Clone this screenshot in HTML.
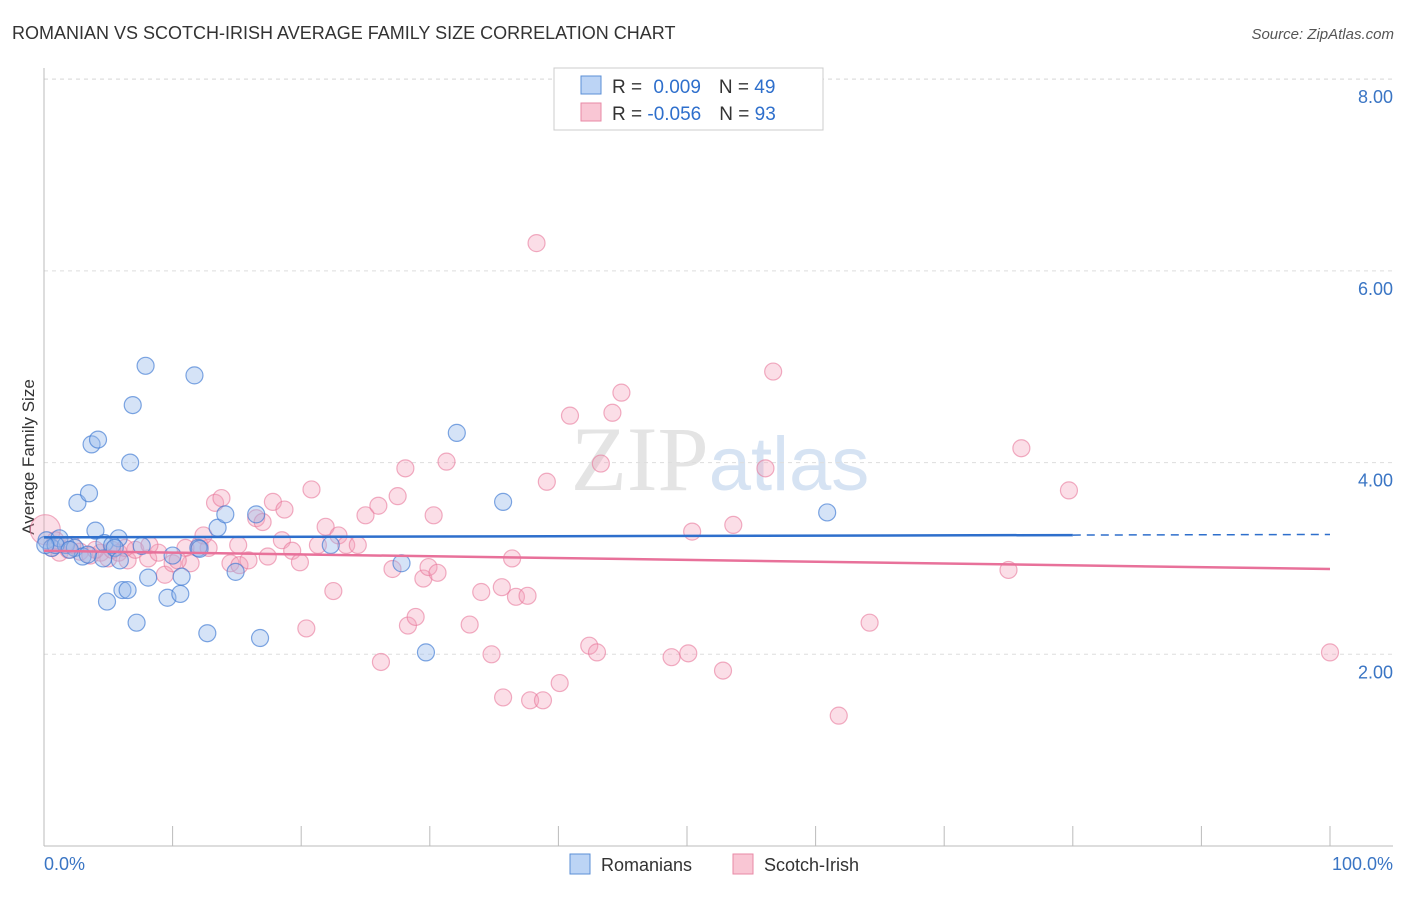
<!DOCTYPE html>
<html><head><meta charset="utf-8"><style>
body{margin:0;background:#fff;font-family:"Liberation Sans",sans-serif}
</style></head><body>
<svg width="1406" height="892" xmlns="http://www.w3.org/2000/svg" font-family="Liberation Sans, sans-serif">
<text x="12" y="39" font-size="18" fill="#333">ROMANIAN VS SCOTCH-IRISH AVERAGE FAMILY SIZE CORRELATION CHART</text>
<text x="1394" y="39" font-size="15" fill="#555" text-anchor="end" font-style="italic">Source: ZipAtlas.com</text>
<text x="720" y="490" font-size="92" text-anchor="middle" fill="#e4e4e4" font-family="Liberation Serif, serif">ZIP<tspan fill="#d6e3f3" font-family="Liberation Sans, sans-serif" font-size="76">atlas</tspan></text>
<g id="grid"></g>
<g id="axes"></g>
<text transform="translate(34,457) rotate(-90)" font-size="17" fill="#333" text-anchor="middle">Average Family Size</text>
<text x="44" y="870" font-size="18" fill="#3a75c4">0.0%</text>
<text x="1393" y="870" font-size="18" fill="#3a75c4" text-anchor="end">100.0%</text>
<g id="pts"></g>
<g id="trend"></g>
<g>
<rect x="554" y="68" width="269" height="62" fill="#fff" stroke="#ccc"/>
<rect x="581" y="76" width="20" height="18" fill="#bcd4f5" stroke="#5b8fd6"/>
<rect x="581" y="103" width="20" height="18" fill="#f9c6d4" stroke="#e889a6"/>
<text x="612" y="93" font-size="19" fill="#333">R = <tspan fill="#2e6fcc" dx="6">0.009</tspan><tspan dx="18">N = </tspan><tspan fill="#2e6fcc">49</tspan></text>
<text x="612" y="120" font-size="19" fill="#333">R = <tspan fill="#2e6fcc" dx="0">-0.056</tspan><tspan dx="18">N = </tspan><tspan fill="#2e6fcc">93</tspan></text>
</g>
<g>
<rect x="570" y="854" width="20" height="20" fill="#bcd4f5" stroke="#5b8fd6"/>
<text x="601" y="871" font-size="18" fill="#333">Romanians</text>
<rect x="733" y="854" width="20" height="20" fill="#f9c6d4" stroke="#e889a6"/>
<text x="764" y="871" font-size="18" fill="#333">Scotch-Irish</text>
</g>
</svg>
<script>
const yTicks=[2,4,6,8];
const yTickLabels=["2.00","4.00","6.00","8.00"];
const blueX=[0.2,0.6,1.2,1.7,2.4,3.0,4.0,4.7,5.8,5.3,7.6,2.6,3.5,3.7,4.2,6.7,6.9,7.9,11.7,4.9,6.1,6.5,7.2,8.1,9.6,10.6,10.7,10.0,12.0,12.7,13.5,14.1,14.9,16.5,16.8,22.3,27.8,29.7,32.1,35.7,60.9,4.6,5.5,0.9,2.0,12.1,5.9,3.4,0.1];
const blueY=[3.19,3.11,3.21,3.14,3.11,3.02,3.29,3.16,3.21,3.14,3.13,3.58,3.68,4.19,4.24,4.00,4.60,5.01,4.91,2.55,2.67,2.67,2.33,2.80,2.59,2.63,2.81,3.03,3.11,2.22,3.32,3.46,2.86,3.46,2.17,3.14,2.95,2.02,4.31,3.59,3.48,3.00,3.11,3.14,3.09,3.10,2.98,3.04,3.14];
const pinkX=[0.1,0.6,1.2,1.9,2.8,3.6,4.4,5.0,5.8,6.5,7.1,8.1,8.9,9.4,10.0,11.0,11.4,12.1,12.8,12.4,13.3,13.8,14.5,15.2,15.9,16.5,17.0,17.4,17.8,18.5,18.7,19.3,19.9,20.4,20.8,21.3,21.9,22.5,22.9,23.5,24.4,25.0,26.0,26.2,27.1,27.5,28.1,28.3,28.9,29.5,29.9,30.3,30.6,31.3,33.1,34.0,34.8,35.6,35.7,36.4,36.7,37.6,37.8,38.3,38.8,39.1,40.1,40.9,42.4,43.0,43.3,44.2,44.9,48.8,50.1,50.4,52.8,53.6,56.1,56.7,61.8,64.2,75.0,76.0,79.7,100,0.9,2.2,4.0,6.3,5.3,8.2,10.4,15.1];
const pinkY=[3.30,3.11,3.06,3.09,3.07,3.03,3.06,3.00,3.06,2.98,3.09,3.00,3.06,2.83,2.95,3.11,2.95,3.14,3.11,3.24,3.58,3.63,2.95,2.93,2.98,3.42,3.38,3.02,3.59,3.19,3.51,3.08,2.96,2.27,3.72,3.14,3.33,2.66,3.24,3.14,3.14,3.45,3.55,1.92,2.89,3.65,3.94,2.30,2.39,2.79,2.91,3.45,2.85,4.01,2.31,2.65,2.00,2.70,1.55,3.00,2.60,2.61,1.52,6.29,1.52,3.80,1.70,4.49,2.09,2.02,3.99,4.52,4.73,1.97,2.01,3.28,1.83,3.35,3.94,4.95,1.36,2.33,2.88,4.15,3.71,2.02,3.19,3.14,3.09,3.11,3.09,3.14,2.98,3.14];
const blueTrend=[3.22,3.25];
const pinkTrend=[3.08,2.89];
const NS="http://www.w3.org/2000/svg";
const X=v=>44+v*12.86, Y=v=>846-v*95.85;
function mk(t,a,p){const e=document.createElementNS(NS,t);for(const k in a)e.setAttribute(k,a[k]);p.appendChild(e);return e;}
const gridG=document.getElementById('grid'),axesG=document.getElementById('axes');
yTicks.forEach((t,i)=>{
 const l=mk('line',{x1:44,x2:1393,y1:Y(t),y2:Y(t),stroke:'#ddd','stroke-dasharray':'4,4'},gridG);
 
 
 const tx=mk('text',{x:1393,y:Y(t)+24,'font-size':18,fill:'#3a75c4','text-anchor':'end'},gridG);
 tx.textContent=yTickLabels[i];
 
 
});
const topLine=mk('line',{x1:44,x2:1393,y1:79,y2:79,stroke:'#ddd','stroke-dasharray':'4,4'},gridG);


const xa=mk('line',{x1:44,x2:1393,y1:846,y2:846,stroke:'#bbb'},axesG);


const ya=mk('line',{x1:44,x2:44,y1:68,y2:846,stroke:'#bbb'},axesG);


for(let i=0;i<=10;i++){
 const tk=mk('line',{x1:X(i*10),x2:X(i*10),y1:826,y2:846,stroke:'#bbb'},axesG);
 
 
}
const ptsG=document.getElementById('pts');
pinkX.forEach((x,i)=>{
 const c=mk('circle',{cx:X(x),cy:Y(pinkY[i]),r:i==0?15:8.5,fill:'rgba(244,160,185,0.35)',stroke:'rgba(232,120,155,0.6)','stroke-width':1.2},ptsG);
 
 
});
blueX.forEach((x,i)=>{
 const c=mk('circle',{cx:X(x),cy:Y(blueY[i]),r:8.5,fill:'rgba(150,185,235,0.4)',stroke:'rgba(60,120,210,0.65)','stroke-width':1.2},ptsG);
 
 
});
const trG=document.getElementById('trend');
const bv=x=>blueTrend[0]+(blueTrend[1]-blueTrend[0])*x/100;
const b1=mk('line',{x1:X(0),y1:Y(bv(0)),x2:X(80),y2:Y(bv(80)),stroke:'#2e6fcc','stroke-width':2.5},trG);


const b2=mk('line',{x1:X(80),y1:Y(bv(80)),x2:X(100),y2:Y(bv(100)),stroke:'#2e6fcc','stroke-width':1.5,'stroke-dasharray':'8,6'},trG);


const p1=mk('line',{x1:X(0),y1:Y(pinkTrend[0]),x2:X(100),y2:Y(pinkTrend[1]),stroke:'#e8719a','stroke-width':2.5},trG);


</script>
</body></html>
